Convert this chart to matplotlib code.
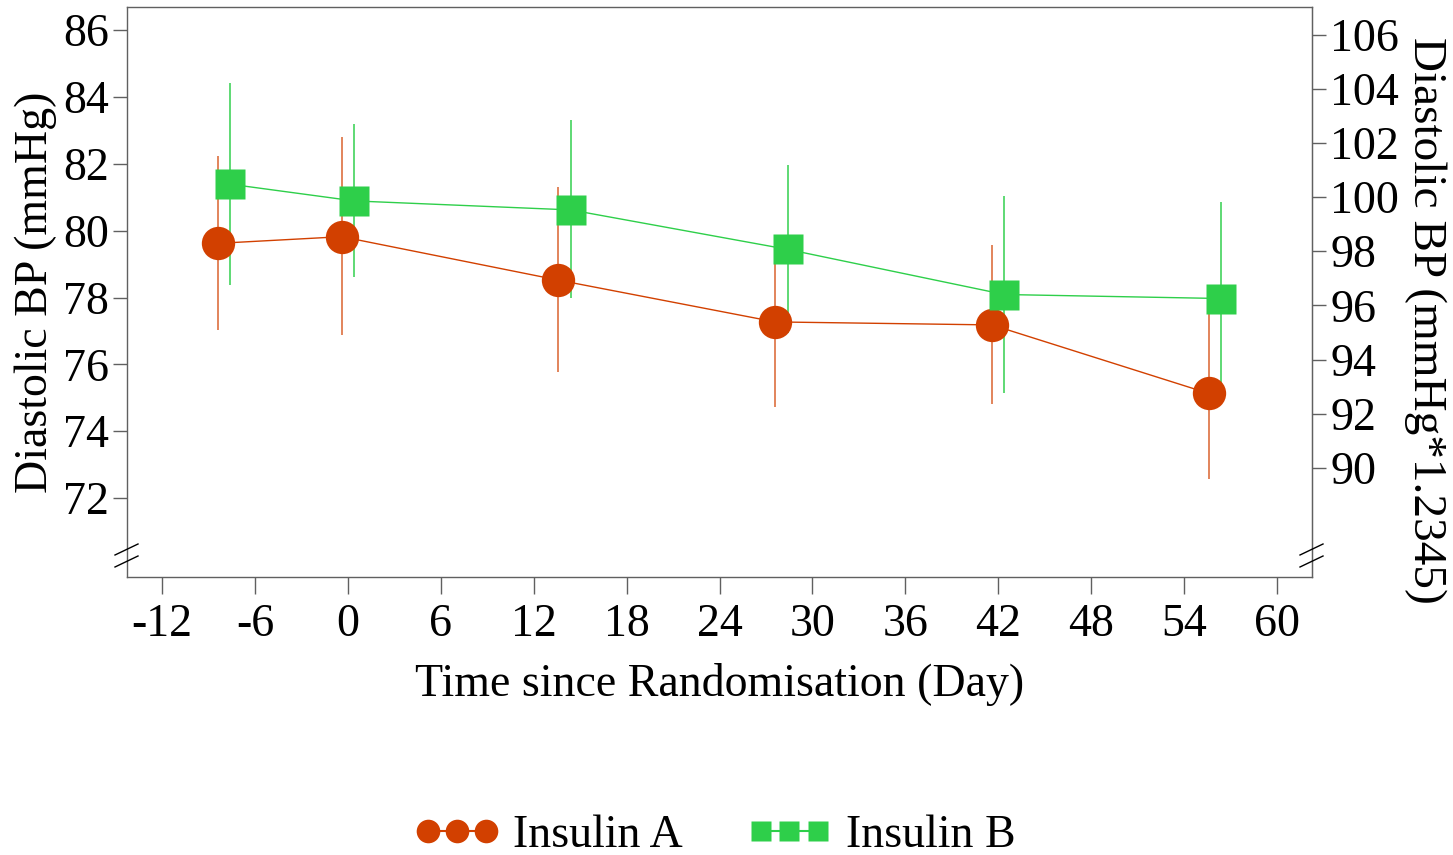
import matplotlib
matplotlib.use("Agg")
import matplotlib.pyplot as plt
import numpy as np

plt.rcParams['font.family'] = ['Liberation Serif', 'DejaVu Serif']
plt.rcParams['axes.unicode_minus'] = False

# data
days = [-8, 0, 14, 28, 42, 56]
ins_a = [79.62, 79.82, 78.52, 77.27, 77.18, 75.13]
ins_a_lo = [77.03, 76.87, 75.78, 74.73, 74.81, 72.57]
ins_a_hi = [82.23, 82.81, 81.31, 79.82, 79.57, 77.69]
ins_b = [81.39, 80.89, 80.62, 79.44, 78.09, 77.97]
ins_b_lo = [78.37, 78.62, 77.98, 76.94, 75.13, 75.07]
ins_b_hi = [84.41, 83.19, 83.31, 81.96, 81.03, 80.87]

xticks = [-12, -6, 0, 6, 12, 18, 24, 30, 36, 42, 48, 54, 60]
yticks_left = [72, 74, 76, 78, 80, 82, 84, 86]
yticks_right = [90, 92, 94, 96, 98, 100, 102, 104, 106]
scale = 1.2345

orange = '#D24000'
green = '#2ECF4A'
spine_col = '#606060'
fs = 33

fig = plt.figure(figsize=(14.53, 8.55), dpi=100)
ax = fig.add_axes([127/1453, 1-577/855, (1312-127)/1453, (577-7)/855])

xa = np.array(days) - 0.4
xb = np.array(days) + 0.4
ya, yb = np.array(ins_a), np.array(ins_b)

ax.vlines(xa, ins_a_lo, ins_a_hi, color=orange, lw=1.2, alpha=0.75, zorder=2)
ax.vlines(xb, ins_b_lo, ins_b_hi, color=green, lw=1.2, alpha=0.9, zorder=2)
ax.plot(xa, ya, '-', color=orange, lw=1, zorder=3)
ax.plot(xb, yb, '-', color=green, lw=1, zorder=3)
ax.plot(xa, ya, 'o', color=orange, ms=24, mec='none', zorder=4)
ax.plot(xb, yb, 's', color=green, ms=21.5, mec='none', zorder=4)

ax.set_xlim(-14.26, 62.26)
ax.set_ylim(69.64, 86.69)
ax.set_xticks(xticks)
ax.set_yticks(yticks_left)

for s in ax.spines.values():
    s.set_color(spine_col)
    s.set_linewidth(1)
ax.tick_params(axis='x', length=12, width=1, color=spine_col, labelsize=fs, pad=7)
ax.tick_params(axis='y', length=10, width=1, color=spine_col, labelsize=fs, pad=3)

sec = ax.secondary_yaxis('right', functions=(lambda y: y*scale, lambda y: y/scale))
sec.set_yticks(yticks_right)
sec.spines['right'].set_color(spine_col)
sec.tick_params(axis='y', length=10, width=1, color=spine_col, labelsize=fs, pad=3)
fig.text(1425/1453, 1-320/855, 'Diastolic BP (mmHg*1.2345)', fontsize=fs+1,
         rotation=270, ha='center', va='center')

ax.set_ylabel('Diastolic BP (mmHg)', fontsize=fs, labelpad=4)
ax.set_xlabel('Time since Randomisation (Day)', fontsize=fs, labelpad=12)

# axis break marks
for x0 in (115, 1300):
    for y0 in (555, 567):
        fig.add_artist(plt.Line2D([x0/1453, (x0+23)/1453], [1-y0/855, 1-(y0-11)/855],
                                  color='black', lw=1))

h_a, = ax.plot([], [], 'o-', color=orange, ms=17, mec='none', lw=1.5)
h_b, = ax.plot([], [], 's-', color=green, ms=15, mec='none', lw=1.5)
fig.legend([h_a, h_b], ['Insulin A', 'Insulin B'], loc='center',
           bbox_to_anchor=(0.492, 1-836/855), ncol=2, frameon=False, numpoints=3,
           fontsize=fs, handlelength=1.85, handletextpad=0.3, columnspacing=1.4)

fig.savefig('out.png', dpi=100)
